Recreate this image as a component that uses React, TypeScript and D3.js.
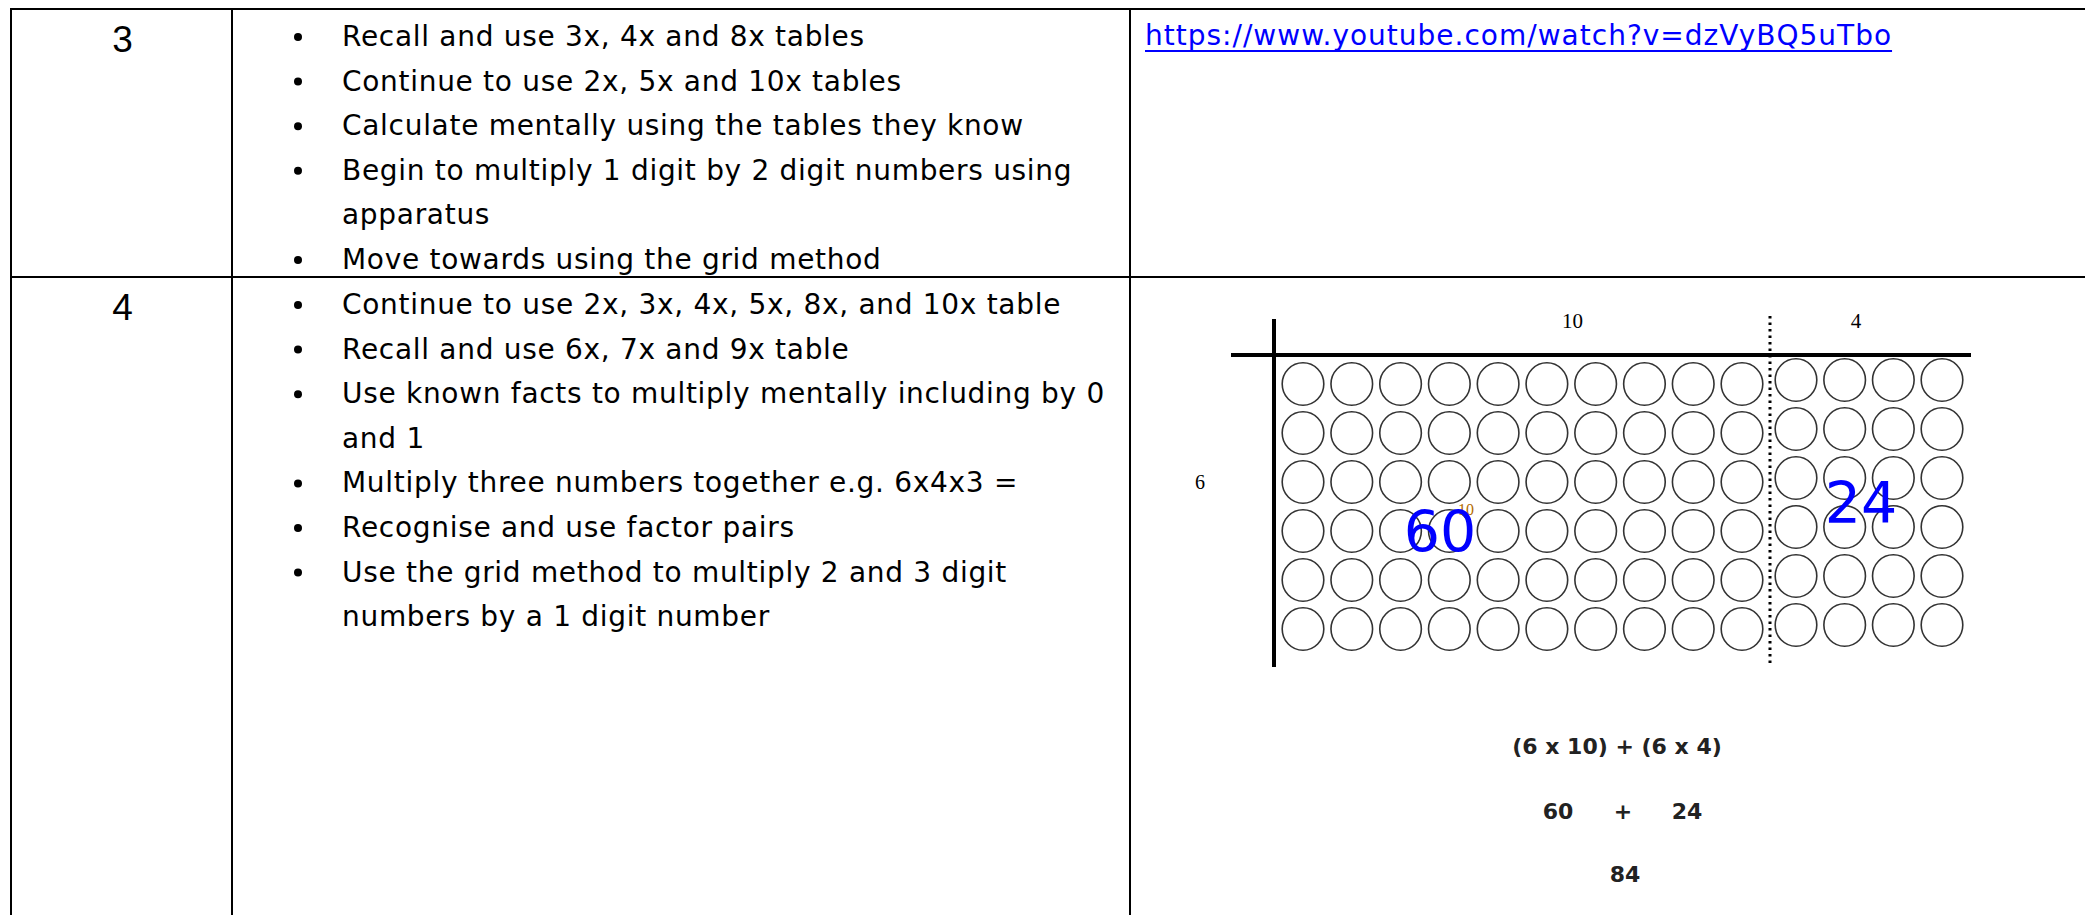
import React, { useEffect, useRef } from 'react';
import * as d3 from 'd3';

// table content
const stages = ['3', '4'];
const stage3Points = [
  ['Recall and use 3x, 4x and 8x tables'],
  ['Continue to use 2x, 5x and 10x tables'],
  ['Calculate mentally using the tables they know'],
  ['Begin to multiply 1 digit by 2 digit numbers using', 'apparatus'],
  ['Move towards using the grid method'],
];
const stage4Points = [
  ['Continue to use 2x, 3x, 4x, 5x, 8x, and 10x table'],
  ['Recall and use 6x, 7x and 9x table'],
  ['Use known facts to multiply mentally including by 0', 'and 1'],
  ['Multiply three numbers together e.g. 6x4x3 ='],
  ['Recognise and use factor pairs'],
  ['Use the grid method to multiply 2 and 3 digit', 'numbers by a 1 digit number'],
];
const stage3Link = 'https://www.youtube.com/watch?v=dzVyBQ5uTbo';

// grid method picture
const gridRows = 6;
const tensCols = 10;
const onesCols = 4;
const gridTopLabels = ['10', '4'];
const gridSideLabel = '6';
const partProducts = ['60', '24'];
const workingLines = [['(6 x 10) + (6 x 4)'], ['60', '+', '24'], ['84']];

const W = 2085;
const H = 915;
const FONT = '"DejaVu Sans", sans-serif';

export default function App() {
  const svgRef = useRef(null);

  useEffect(() => {
    document.body.style.margin = '0';
    document.body.style.overflow = 'hidden';
    const svg = d3.select(svgRef.current);
    svg.selectAll('*').remove();

    // table geometry
    const colX = [11, 232, 1130, W + 5];
    const rowY = [9, 277, H + 5];
    const lineGap = 44.6;

    const grid = svg.append('g');
    rowY.slice(0, 2).forEach(y => {
      grid.append('line').attr('x1', colX[0] - 1).attr('x2', W).attr('y1', y).attr('y2', y)
        .attr('stroke', '#000').attr('stroke-width', 2.2);
    });
    colX.slice(0, 3).forEach(x => {
      grid.append('line').attr('x1', x).attr('x2', x).attr('y1', rowY[0]).attr('y2', H)
        .attr('stroke', '#000').attr('stroke-width', 2);
    });

    // stage numbers
    svg.selectAll('text.stage')
      .data(stages)
      .enter()
      .append('text')
      .attr('class', 'stage')
      .attr('x', (colX[0] + colX[1]) / 2 + 1)
      .attr('y', (d, i) => rowY[i] + 43)
      .attr('text-anchor', 'middle')
      .style('font-family', '"Liberation Sans", Arial, sans-serif')
      .style('font-size', '37px')
      .text(d => d);

    // bullet lists
    [stage3Points, stage4Points].forEach((points, r) => {
      let line = 0;
      const g = svg.append('g');
      points.forEach(lines => {
        const baseY = rowY[r] + 37 + line * lineGap;
        g.append('circle').attr('cx', 298).attr('cy', baseY - 9).attr('r', 4).attr('fill', '#000');
        lines.forEach((t, k) => {
          g.append('text')
            .attr('x', 342)
            .attr('y', rowY[r] + 37 + (line + k) * lineGap)
            .style('font-family', FONT)
            .style('font-size', '28px')
            .style('letter-spacing', '0.7px')
            .attr('fill', '#000')
            .text(t);
        });
        line += lines.length;
      });
    });

    // link
    const link = svg.append('text')
      .attr('x', 1145)
      .attr('y', 45)
      .style('font-family', FONT)
      .style('font-size', '28px')
      .style('letter-spacing', '1px')
      .attr('fill', '#0000ff')
      .text(stage3Link);
    const lw = link.node().getComputedTextLength();
    svg.append('line').attr('x1', 1145).attr('x2', 1145 + lw).attr('y1', 51).attr('y2', 51)
      .attr('stroke', '#0000ff').attr('stroke-width', 2.2);

    // grid method picture
    const pic = svg.append('g');
    const xTens = d3.scaleLinear().domain([0, tensCols - 1]).range([1303, 1742]);
    const xOnes = d3.scaleLinear().domain([0, onesCols - 1]).range([1796, 1942]);
    const yTens = d3.scaleLinear().domain([0, gridRows - 1]).range([384, 629]);
    const yOnes = d3.scaleLinear().domain([0, gridRows - 1]).range([380, 625]);

    const counters = [];
    d3.range(gridRows).forEach(r => {
      d3.range(tensCols).forEach(c => counters.push({ x: xTens(c), y: yTens(r) }));
      d3.range(onesCols).forEach(c => counters.push({ x: xOnes(c), y: yOnes(r) }));
    });
    pic.selectAll('ellipse')
      .data(counters)
      .enter()
      .append('ellipse')
      .attr('cx', d => d.x)
      .attr('cy', d => d.y)
      .attr('rx', 20.8)
      .attr('ry', 21.3)
      .attr('fill', 'none')
      .attr('stroke', '#333')
      .attr('stroke-width', 1.6);

    pic.append('line').attr('x1', 1231).attr('x2', 1971).attr('y1', 355).attr('y2', 355)
      .attr('stroke', '#000').attr('stroke-width', 4);
    pic.append('line').attr('x1', 1274).attr('x2', 1274).attr('y1', 319).attr('y2', 667)
      .attr('stroke', '#000').attr('stroke-width', 4);
    pic.append('line').attr('x1', 1770).attr('x2', 1770).attr('y1', 316).attr('y2', 664)
      .attr('stroke', '#000').attr('stroke-width', 3).attr('stroke-dasharray', '2.5,4');

    const serif = '"Liberation Serif", "Times New Roman", serif';
    pic.selectAll('text.top')
      .data(gridTopLabels)
      .enter()
      .append('text')
      .attr('class', 'top')
      .attr('x', (d, i) => (i === 0 ? (xTens(0) + xTens(tensCols - 1)) / 2 + 50 : (xOnes(0) + xOnes(onesCols - 1)) / 2 - 13))
      .attr('y', 328)
      .attr('text-anchor', 'middle')
      .style('font-family', serif)
      .style('font-size', '21px')
      .text(d => d);
    pic.append('text')
      .attr('x', 1200).attr('y', 489)
      .attr('text-anchor', 'middle')
      .style('font-family', serif)
      .style('font-size', '20px')
      .text(gridSideLabel);

    // faint label left under the big "60"
    pic.append('text').attr('x', 1466).attr('y', 515).attr('text-anchor', 'middle')
      .style('font-family', serif).style('font-size', '16px').attr('fill', '#b36b00').text('10');

    pic.selectAll('text.part')
      .data(partProducts)
      .enter()
      .append('text')
      .attr('class', 'part')
      .attr('x', (d, i) => (i === 0 ? 1440 : 1861))
      .attr('y', (d, i) => (i === 0 ? 552 : 523))
      .attr('text-anchor', 'middle')
      .style('font-family', FONT)
      .style('font-size', '57px')
      .attr('fill', '#0000ff')
      .text(d => d);

    // working underneath
    const workX = [[1617], [1558, 1623, 1687], [1625]];
    const workY = [754, 819, 882];
    workingLines.forEach((parts, i) => {
      parts.forEach((t, j) => {
        pic.append('text')
          .attr('x', workX[i][j])
          .attr('y', workY[i])
          .attr('text-anchor', 'middle')
          .style('font-family', FONT)
          .style('font-size', '22px')
          .style('font-weight', 'bold')
          .attr('fill', '#222')
          .text(t);
      });
    });
  }, []);

  return (
    <svg ref={svgRef} width={W} height={H}
      style={{ position: 'absolute', left: 0, top: 0, background: '#fff', display: 'block' }} />
  );
}
